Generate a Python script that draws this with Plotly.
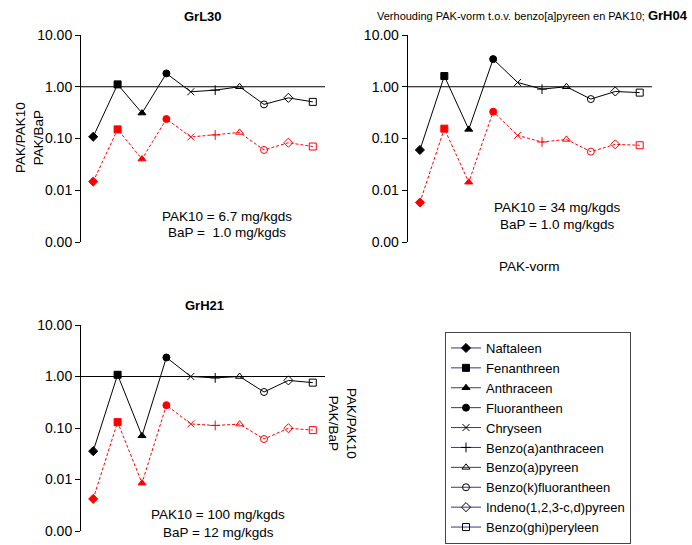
import plotly.graph_objects as go

W, H = 692, 545

categories = ["Naftaleen", "Fenanthreen", "Anthraceen", "Fluorantheen", "Chryseen",
              "Benzo(a)anthraceen", "Benzo(a)pyreen", "Benzo(k)fluorantheen",
              "Indeno(1,2,3-c,d)pyreen", "Benzo(ghi)peryleen"]
symbols = ["diamond", "square", "triangle-up", "circle", "x-thin-open", "cross-thin-open",
           "triangle-up-open", "circle-open", "diamond-open", "square-open"]

# PAK/BaP (black) and PAK/PAK10 (red) per sample
grl30_bap = [0.108, 1.11, 0.31, 1.81, 0.80, 0.86, 1.0, 0.456, 0.61, 0.51]
grl30_pak10 = [0.0147, 0.150, 0.040, 0.238, 0.107, 0.117, 0.131, 0.060, 0.083, 0.070]
grh04_bap = [0.060, 1.61, 0.150, 3.42, 1.21, 0.90, 1.0, 0.578, 0.81, 0.77]
grh04_pak10 = [0.0058, 0.155, 0.0143, 0.33, 0.115, 0.0856, 0.096, 0.0557, 0.077, 0.074]
grh21_bap = [0.0355, 1.08, 0.0705, 2.34, 1.0, 0.94, 1.0, 0.50, 0.84, 0.76]
grh21_pak10 = [0.0042, 0.130, 0.0085, 0.277, 0.120, 0.112, 0.119, 0.061, 0.099, 0.091]

panel_names = ["GrL30", "GrH04", "GrH21"]
panel_info = [("6.7", "1.0"), ("34", "1.0"), ("100", "12")]

tickvals = [0.001, 0.01, 0.1, 1, 10]
ticktext = ["0.00", "0.01", "0.10", "1.00", "10.00"]

FONT = "Liberation Sans, Arial, sans-serif"


def px(x):
    return x / W


def py(y):
    return 1 - y / H


fig = go.Figure()

series = [(grl30_bap, grl30_pak10), (grh04_bap, grh04_pak10), (grh21_bap, grh21_pak10)]
axes = [("x", "y"), ("x2", "y2"), ("x3", "y3")]

for (bap, pak10), (xa, ya) in zip(series, axes):
    fig.add_trace(go.Scatter(
        x=categories, y=bap, xaxis=xa, yaxis=ya, mode="lines+markers",
        line=dict(color="black", width=1),
        marker=dict(symbol=symbols, size=7, color="black",
                    line=dict(color="black", width=1)),
        showlegend=False, hoverinfo="skip"))
    fig.add_trace(go.Scatter(
        x=categories, y=pak10, xaxis=xa, yaxis=ya, mode="lines+markers",
        line=dict(color="#ff0000", width=1, dash="3px,2px"),
        marker=dict(symbol=symbols, size=7, color="#ff0000",
                    line=dict(color="#ff0000", width=1)),
        showlegend=False, hoverinfo="skip"))

for name, sym in zip(categories, symbols):
    fig.add_trace(go.Scatter(
        x=[None], y=[None], mode="lines+markers", name=name,
        line=dict(color="#333399", width=1),
        marker=dict(symbol=sym, size=7, color="black", line=dict(color="black", width=1)),
        showlegend=True))

# axis domains in pixels
xdom = [(81, 325), (407.7, 651.9), (81, 325)]
ydom = [(35, 242), (35, 242), (325, 531)]

layout = dict(
    width=W, height=H, margin=dict(l=0, r=0, t=0, b=0, autoexpand=False),
    paper_bgcolor="white", plot_bgcolor="white",
    font=dict(family=FONT, size=14, color="black"),
    showlegend=True,
    legend=dict(x=px(445), y=py(332), xanchor="left", yanchor="top",
                bordercolor="#444444", borderwidth=1, bgcolor="white",
                font=dict(family=FONT, size=13), itemwidth=30, tracegroupgap=0),
)

for i, (xd, yd) in enumerate(zip(xdom, ydom)):
    suf = "" if i == 0 else str(i + 1)
    layout["xaxis" + suf] = dict(
        domain=[px(xd[0]), px(xd[1])], range=[-0.5, 9.5], type="category",
        showline=False, showgrid=False, zeroline=False, showticklabels=False,
        ticks="", anchor="y" + suf)
    layout["yaxis" + suf] = dict(
        domain=[py(yd[1]), py(yd[0])], type="log", range=[-3, 1],
        tickvals=tickvals, ticktext=ticktext, ticks="outside", ticklen=5,
        tickcolor="black", showline=True, linecolor="black", linewidth=1,
        showgrid=False, zeroline=False, anchor="x" + suf,
        tickfont=dict(family=FONT, size=14, color="black"))

fig.update_layout(**layout)

# reference line at ratio 1
for i in range(3):
    suf = "" if i == 0 else str(i + 1)
    fig.add_shape(type="line", xref=("x" + suf + " domain"), yref=("y" + suf),
                  x0=0, x1=1, y0=1, y1=1, line=dict(color="black", width=1))

ann = []
# panel titles
ann.append(dict(text="<b>GrL30</b>", x=px(203), y=py(16), font=dict(size=13)))
ann.append(dict(text="<b>GrH21</b>", x=px(205), y=py(305), font=dict(size=13)))
ann.append(dict(text="<span style='font-size:11px'>Verhouding PAK-vorm t.o.v. benzo[a]pyreen en PAK10; </span><b>GrH04</b>",
                x=px(690), y=py(15), xanchor="right", font=dict(size=13)))
ann.append(dict(text="PAK-vorm", x=px(529), y=py(266), font=dict(size=13.5)))

# info text
info_pos = [(227, 216, 233), (557, 207, 225), (218, 514, 532)]
for (pak, bap), (cx, y1, y2) in zip(panel_info, info_pos):
    bap_txt = f"BaP =  {bap} mg/kgds" if pak == "6.7" else f"BaP = {bap} mg/kgds"
    ann.append(dict(text=f"PAK10 = {pak} mg/kgds", x=px(cx), y=py(y1), font=dict(size=13.5)))
    ann.append(dict(text=bap_txt, x=px(cx), y=py(y2), font=dict(size=13.5)))

# y axis titles
ann.append(dict(text="PAK/PAK10<br>PAK/BaP", x=px(29), y=py(138), textangle=-90,
                font=dict(size=13.5)))
ann.append(dict(text="PAK/PAK10<br>PAK/BaP", x=px(343), y=py(423), textangle=90,
                font=dict(size=13.5)))

for a in ann:
    a.setdefault("xref", "paper")
    a.setdefault("yref", "paper")
    a.setdefault("showarrow", False)
    a.setdefault("xanchor", "center")
    a.setdefault("yanchor", "middle")
    a["font"] = dict(family=FONT, color="black", **a.get("font", {}))
    fig.add_annotation(**a)

fig.write_html("out.html", config={"displayModeBar": False},
               post_script="document.body.style.margin='0';document.body.style.overflow='hidden';")
